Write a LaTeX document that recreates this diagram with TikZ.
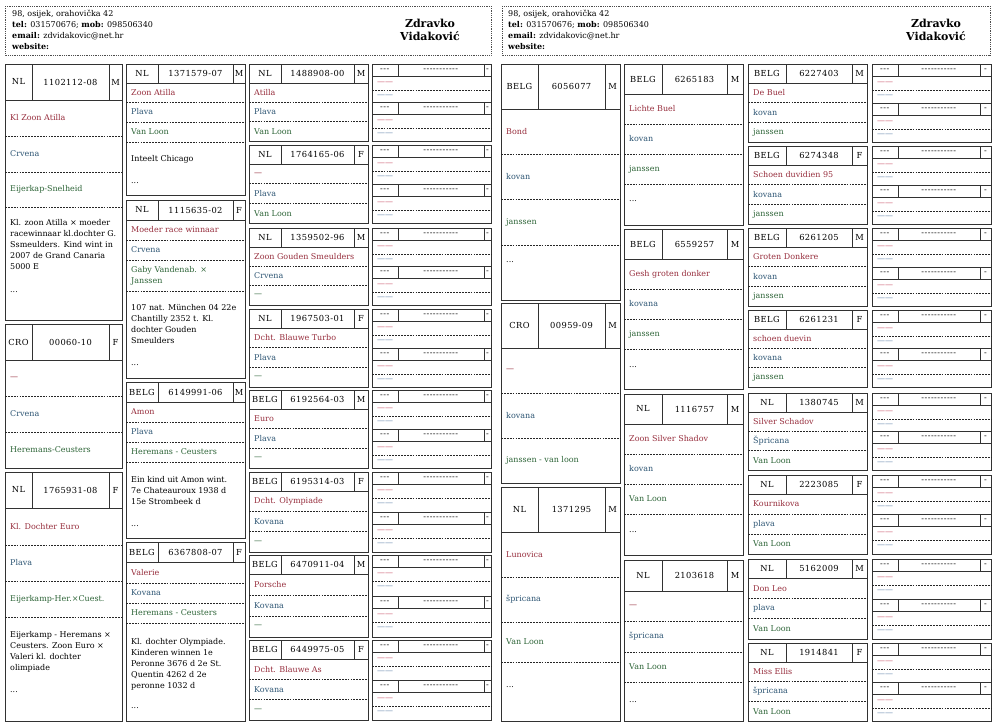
\documentclass[tikz,border=0pt]{standalone}
\usepackage{fontspec}
\setmainfont{DejaVu Serif}
\usepackage{xcolor}
\usepackage{tikz}
\definecolor{namered}{RGB}{150,45,60}
\definecolor{colblue}{RGB}{45,85,115}
\definecolor{straingreen}{RGB}{45,100,55}
\definecolor{framegray}{RGB}{50,50,50}
\definecolor{lightred}{RGB}{205,95,115}
\definecolor{lightblue}{RGB}{110,140,175}
\newcommand{\cardfont}{\fontsize{8}{11}\selectfont}
\newcommand{\headfont}{\fontsize{8.3}{11}\selectfont\addfontfeature{LetterSpace=5}}
\tikzset{cardline/.style={draw=framegray,line width=1pt},
	rowline/.style={draw=black!85,line width=.8pt,dash pattern=on 1.8pt off 1.1pt},
	headtxt/.style={inner sep=0pt,font=\headfont},
	rowtxt/.style={anchor=west,inner sep=0pt,align=left,font=\cardfont},
	nametxt/.style={rowtxt,text=namered},
	colortxt/.style={rowtxt,text=colblue},
	straintxt/.style={rowtxt,text=straingreen},
	notetxt/.style={anchor=north west,inner sep=0pt,align=left,font=\cardfont},
	addrbox/.style={draw=black!70,line width=.8pt,densely dotted}}
% column edges: left, after country, after number, right
\newcommand{\setcols}[4]{\def\xl{#1}\def\xm{#2}\def\xn{#3}\def\xr{#4}}
\newcommand{\hyps}[1]{\foreach\nhy in {1,...,#1}{-\kern.5pt}}
% id, top, header bottom, bottom, country, number, sex
\newcommand{\cardhead}[7]{%
	\draw[cardline] (\xl,#2) rectangle (\xr,#4);
	\draw[cardline] (\xl,#3) -- (\xr,#3) (\xm,#2) -- (\xm,#3) (\xn,#2) -- (\xn,#3);
	\node[headtxt] (#1-c) at ({(\xl+\xm)/2},{(#2+#3)/2}) {#5};
	\node[headtxt] (#1-n) at ({(\xm+\xn)/2},{(#2+#3)/2}) {#6};
	\node[headtxt] (#1-s) at ({(\xn+\xr)/2},{(#2+#3)/2}) {#7};}
\newcommand{\cardtext}[5]{\node[#2] (#1) at ({\xl+5},{(#3+#4)/2}) {#5};}
\newcommand{\cardrow}[5]{\draw[rowline] (\xl,#4) -- (\xr,#4); \cardtext{#1}{#2}{#3}{#4}{#5}}
% id, first line y, text, dots y
\newcommand{\cardnotes}[4]{%
	\node[notetxt] (#1-txt) at ({\xl+5},{#2-4}) {#3};
	\node[rowtxt] (#1-dots) at ({\xl+5},#4) {...};}
% id, top, bottom
\newcommand{\parentbox}[3]{%
	\draw[cardline] (\xl,#2) rectangle (\xr,#3);
	\foreach \s [count=\k] in {#2,{(#2+#3)/2}}{
		\pgfmathsetmacro\ys{\s}
		\draw[cardline] (\xl,\ys) -- (\xr,\ys) (\xl,\ys+12) -- (\xr,\ys+12)
			(\xm,\ys) -- (\xm,\ys+12) (\xn,\ys) -- (\xn,\ys+12);
		\draw[rowline] (\xl,\ys+26) -- (\xr,\ys+26);
		\node[headtxt,font=\cardfont] (#1-\k-c) at ({(\xl+\xm)/2},\ys+6) {\hyps{3}};
		\node[headtxt,font=\cardfont] (#1-\k-n) at ({(\xm+\xn)/2},\ys+6) {\hyps{11}};
		\node[headtxt,font=\cardfont] (#1-\k-s) at ({(\xn+\xr)/2},\ys+6) {-};
		\node[rowtxt,text=lightred] (#1-\k-a) at ({\xl+5},\ys+19) {——};
		\node[rowtxt,text=lightblue] (#1-\k-b) at ({\xl+5},\ys+32) {——};
	}}

\begin{document}
\begin{tikzpicture}[x=1pt,y=-1pt]
	\useasboundingbox (0,0) rectangle (1000,726);
	%
	% left sheet
	\draw[addrbox] (5,6) rectangle (491,55);
	\node[notetxt] (addrL) at (12,10) {98, osijek, orahovička 42\\\textbf{tel:} 031570676; \textbf{mob:} 098506340\\\textbf{email:} zdvidakovic@net.hr\\\textbf{website:}};
	\node[align=center,font=\bfseries\fontsize{11}{13.5}\selectfont] (ownerL) at (430,30) {Zdravko\\Vidaković};
	%
	\setcols{5}{32}{109}{122}
	\cardhead{A1}{64}{100}{320}{NL}{1102112-08}{M}
	\cardrow{A1-nm}{nametxt}{100}{136}{Kl Zoon Atilla}
	\cardrow{A1-cl}{colortxt}{136}{172}{Crvena}
	\cardrow{A1-st}{straintxt}{172}{207}{Eijerkap-Snelheid}
	\cardnotes{A1}{223}{Kl. zoon Atilla × moeder\\racewinnaar kl.dochter G.\\Ssmeulders. Kind wint in\\2007 de Grand Canaria\\5000 E}{292}
	\cardhead{A2}{324}{360}{468}{CRO}{00060-10}{F}
	\cardrow{A2-nm}{nametxt}{360}{396}{—}
	\cardrow{A2-cl}{colortxt}{396}{432}{Crvena}
	\cardtext{A2-st}{straintxt}{432}{468}{Heremans-Ceusters}
	\cardhead{A3}{472}{508}{721}{NL}{1765931-08}{F}
	\cardrow{A3-nm}{nametxt}{508}{545}{Kl. Dochter Euro}
	\cardrow{A3-cl}{colortxt}{545}{581}{Plava}
	\cardrow{A3-st}{straintxt}{581}{617}{Eijerkamp-Her.×Cuest.}
	\cardnotes{A3}{635}{Eijerkamp - Heremans ×\\Ceusters. Zoon Euro ×\\Valeri kl. dochter\\olimpiade}{692}
	%
	\setcols{126}{158}{233}{245}
	\cardhead{B1}{64}{83}{195}{NL}{1371579-07}{M}
	\cardrow{B1-nm}{nametxt}{83}{102}{Zoon Atilla}
	\cardrow{B1-cl}{colortxt}{102}{122}{Plava}
	\cardrow{B1-st}{straintxt}{122}{142}{Van Loon}
	\cardnotes{B1}{159}{Inteelt Chicago}{183}
	\cardhead{B2}{200}{220}{378}{NL}{1115635-02}{F}
	\cardrow{B2-nm}{nametxt}{220}{240}{Moeder race winnaar}
	\cardrow{B2-cl}{colortxt}{240}{260}{Crvena}
	\cardrow{B2-st}{straintxt}{260}{291}{Gaby Vandenab. ×\\Janssen}
	\cardnotes{B2}{308}{107 nat. München 04 22e\\Chantilly 2352 t. Kl.\\dochter Gouden\\Smeulders}{365}
	\cardhead{B3}{382}{402}{538}{BELG}{6149991-06}{M}
	\cardrow{B3-nm}{nametxt}{402}{422}{Amon}
	\cardrow{B3-cl}{colortxt}{422}{442}{Plava}
	\cardrow{B3-st}{straintxt}{442}{462}{Heremans - Ceusters}
	\cardnotes{B3}{480}{Ein kind uit Amon wint.\\7e Chateauroux 1938 d\\15e Strombeek d}{526}
	\cardhead{B4}{542}{562}{721}{BELG}{6367808-07}{F}
	\cardrow{B4-nm}{nametxt}{562}{583}{Valerie}
	\cardrow{B4-cl}{colortxt}{583}{603}{Kovana}
	\cardrow{B4-st}{straintxt}{603}{623}{Heremans - Ceusters}
	\cardnotes{B4}{642}{Kl. dochter Olympiade.\\Kinderen winnen 1e\\Peronne 3676 d 2e St.\\Quentin 4262 d 2e\\peronne 1032 d}{708}
	%
	\setcols{249}{281}{354}{368}
	\foreach \id/\t/\b/\co/\nr/\sx/\nm/\cl/\st in {
		C1/64/141/NL/1488908-00/M/Atilla/Plava/Van Loon,
		C2/145/223/NL/1764165-06/F/—/Plava/Van Loon,
		C3/228/305/NL/1359502-96/M/Zoon Gouden Smeulders/Crvena/—,
		C4/309/387/NL/1967503-01/F/Dcht. Blauwe Turbo/Plava/—,
		C5/390/468/BELG/6192564-03/M/Euro/Plava/—,
		C6/472/552/BELG/6195314-03/F/Dcht. Olympiade/Kovana/—,
		C7/555/637/BELG/6470911-04/M/Porsche/Kovana/—,
		C8/640/720/BELG/6449975-05/F/Dcht. Blauwe As/Kovana/—}{
		\pgfmathsetmacro\yh{\t+19}
		\pgfmathsetmacro\ya{\yh+(\b-\yh)/3}
		\pgfmathsetmacro\yb{\yh+2*(\b-\yh)/3}
		\cardhead{\id}{\t}{\yh}{\b}{\co}{\nr}{\sx}
		\cardrow{\id-nm}{nametxt}{\yh}{\ya}{\nm}
		\cardrow{\id-cl}{colortxt}{\ya}{\yb}{\cl}
		\cardtext{\id-st}{straintxt}{\yb}{\b}{\st}
	}
	\setcols{372}{398}{484}{491}
	\foreach \id/\t/\b in {G1/64/141,G2/145/223,G3/228/305,G4/309/387,
		G5/390/468,G6/472/552,G7/555/637,G8/640/720}{
		\parentbox{\id}{\t}{\b}
	}
	%
	% right sheet
	\draw[addrbox] (502,6) rectangle (990,55);
	\node[notetxt] (addrR) at (508,10) {98, osijek, orahovička 42\\\textbf{tel:} 031570676; \textbf{mob:} 098506340\\\textbf{email:} zdvidakovic@net.hr\\\textbf{website:}};
	\node[align=center,font=\bfseries\fontsize{11}{13.5}\selectfont] (ownerR) at (936,30) {Zdravko\\Vidaković};
	%
	\setcols{501}{538}{605}{620}
	\cardhead{D1}{64}{109}{300}{BELG}{6056077}{M}
	\cardrow{D1-nm}{nametxt}{109}{154}{Bond}
	\cardrow{D1-cl}{colortxt}{154}{199}{kovan}
	\cardrow{D1-st}{straintxt}{199}{245}{janssen}
	\node[rowtxt] (D1-dots) at (506,262) {...};
	\cardhead{D2}{303}{348}{483}{CRO}{00959-09}{M}
	\cardrow{D2-nm}{nametxt}{348}{393}{—}
	\cardrow{D2-cl}{colortxt}{393}{438}{kovana}
	\cardtext{D2-st}{straintxt}{438}{483}{janssen - van loon}
	\cardhead{D3}{487}{532}{721}{NL}{1371295}{M}
	\cardrow{D3-nm}{nametxt}{532}{577}{Lunovica}
	\cardrow{D3-cl}{colortxt}{577}{622}{špricana}
	\cardrow{D3-st}{straintxt}{622}{662}{Van Loon}
	\node[rowtxt] (D3-dots) at (506,687) {...};
	%
	\setcols{624}{662}{727}{743}
	\cardhead{E1}{64}{94}{225}{BELG}{6265183}{M}
	\cardrow{E1-nm}{nametxt}{94}{124}{Lichte Buel}
	\cardrow{E1-cl}{colortxt}{124}{154}{kovan}
	\cardrow{E1-st}{straintxt}{154}{184}{janssen}
	\node[rowtxt] (E1-dots) at (629,201) {...};
	\cardhead{E2}{229}{259}{389}{BELG}{6559257}{M}
	\cardrow{E2-nm}{nametxt}{259}{289}{Gesh groten donker}
	\cardrow{E2-cl}{colortxt}{289}{319}{kovana}
	\cardrow{E2-st}{straintxt}{319}{349}{janssen}
	\node[rowtxt] (E2-dots) at (629,367) {...};
	\cardhead{E3}{394}{424}{555}{NL}{1116757}{M}
	\cardrow{E3-nm}{nametxt}{424}{454}{Zoon Silver Shadov}
	\cardrow{E3-cl}{colortxt}{454}{484}{kovan}
	\cardrow{E3-st}{straintxt}{484}{514}{Van Loon}
	\node[rowtxt] (E3-dots) at (629,532) {...};
	\cardhead{E4}{560}{591}{721}{NL}{2103618}{M}
	\cardrow{E4-nm}{nametxt}{591}{621}{—}
	\cardrow{E4-cl}{colortxt}{621}{652}{špricana}
	\cardrow{E4-st}{straintxt}{652}{682}{Van Loon}
	\node[rowtxt] (E4-dots) at (629,702) {...};
	%
	\setcols{748}{786}{852}{867}
	\foreach \id/\t/\b/\co/\nr/\sx/\nm/\cl/\st in {
		F1/64/142/BELG/6227403/M/De Buel/kovan/janssen,
		F2/146/224/BELG/6274348/F/Schoen duvidien 95/kovana/janssen,
		F3/228/306/BELG/6261205/M/Groten Donkere/kovan/janssen,
		F4/310/387/BELG/6261231/F/schoen duevin/kovana/janssen,
		F5/393/470/NL/1380745/M/Silver Schadov/Špricana/Van Loon,
		F6/475/554/NL/2223085/F/Kournikova/plava/Van Loon,
		F7/559/639/NL/5162009/M/Don Leo/plava/Van Loon,
		F8/643/721/NL/1914841/F/Miss Ellis/špricana/Van Loon}{
		\pgfmathsetmacro\yh{\t+19}
		\pgfmathsetmacro\ya{\yh+(\b-\yh)/3}
		\pgfmathsetmacro\yb{\yh+2*(\b-\yh)/3}
		\cardhead{\id}{\t}{\yh}{\b}{\co}{\nr}{\sx}
		\cardrow{\id-nm}{nametxt}{\yh}{\ya}{\nm}
		\cardrow{\id-cl}{colortxt}{\ya}{\yb}{\cl}
		\cardtext{\id-st}{straintxt}{\yb}{\b}{\st}
	}
	\setcols{872}{898}{980}{991}
	\foreach \id/\t/\b in {H1/64/142,H2/146/224,H3/228/306,H4/310/387,
		H5/393/470,H6/475/554,H7/559/639,H8/643/721}{
		\parentbox{\id}{\t}{\b}
	}
\end{tikzpicture}
\end{document}
